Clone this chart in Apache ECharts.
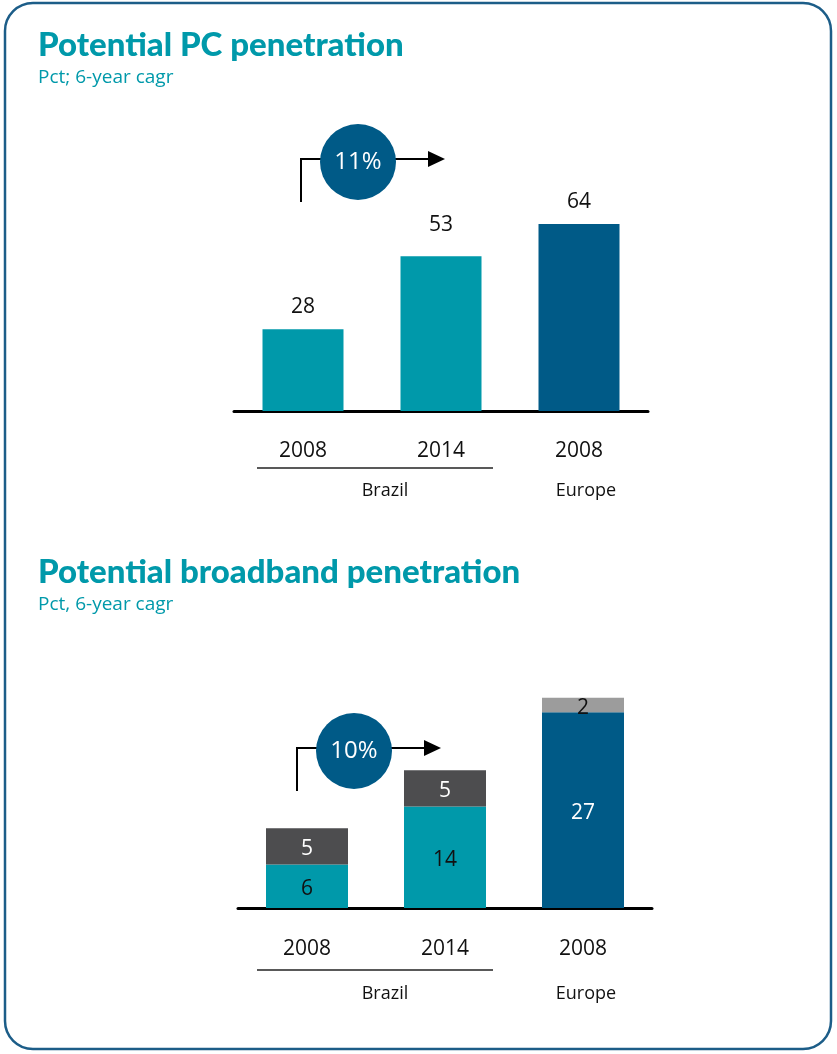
<!DOCTYPE html>
<html>
<head>
<meta charset="utf-8">
<script src="https://cdn.jsdelivr.net/npm/echarts@6/dist/echarts.min.js"></script>
<style>
  html, body { margin: 0; padding: 0; background: #ffffff; }
  #chart { width: 837px; height: 1054px; }
</style>
</head>
<body>
<div id="chart"></div>
<script>
// Category labels under each bar and the region each pair belongs to
const categories = ['2008', '2014', '2008'];
const regionLabels = ['Brazil', 'Europe'];

// Potential PC penetration, percent
const pcValues = [28, 53, 64];
const pcCagr = '11%';

// Potential broadband penetration, percent (lower + upper stacked segments)
const bbLower = [6, 14, 27];
const bbUpper = [5, 5, 2];
const bbCagr = '10%';

const TEAL = '#0099aa';
const NAVY = '#005a87';
const DARK = '#4d4d4f';
const LIGHT = '#9c9c9c';
const FONT = 'Open Sans';

const chart = echarts.init(document.getElementById('chart'));

function lowerColor(i) { return i === 2 ? NAVY : TEAL; }

const option = {
  animation: false,
  textStyle: { fontFamily: FONT },
  grid: [
    { left: 234, width: 414, top: 119, height: 292 },
    { left: 238, width: 414, top: 618, height: 290 }
  ],
  xAxis: [0, 1].map(g => ({
    type: 'category',
    gridIndex: g,
    data: categories,
    axisLine: { lineStyle: { color: '#000', width: 3 } },
    axisTick: { show: false },
    axisLabel: { color: '#111', fontSize: 21, fontFamily: FONT, margin: g === 0 ? 30 : 31 }
  })),
  yAxis: [
    { type: 'value', gridIndex: 0, min: 0, max: 100, show: false },
    { type: 'value', gridIndex: 1, min: 0, max: 40, show: false }
  ],
  series: [
    {
      type: 'bar',
      xAxisIndex: 0, yAxisIndex: 0,
      barWidth: 81,
      data: pcValues.map((v, i) => ({
        value: v,
        itemStyle: { color: lowerColor(i) },
        label: i === 1 ? { offset: [0, -9] } : {}
      })),
      label: { show: true, position: 'top', distance: 12, color: '#111', fontSize: 21, fontFamily: FONT }
    },
    {
      type: 'bar',
      xAxisIndex: 1, yAxisIndex: 1,
      stack: 'bb',
      barWidth: 82,
      data: bbLower.map((v, i) => ({
        value: v,
        itemStyle: { color: lowerColor(i) },
        label: { color: i === 2 ? '#ffffff' : '#111111' }
      })),
      label: { show: true, position: 'inside', offset: [0, 3], fontSize: 21, fontFamily: FONT }
    },
    {
      type: 'bar',
      xAxisIndex: 1, yAxisIndex: 1,
      stack: 'bb',
      barWidth: 82,
      data: bbUpper.map((v, i) => ({
        value: v,
        itemStyle: { color: i === 2 ? LIGHT : DARK },
        label: { color: i === 2 ? '#111111' : '#ffffff' }
      })),
      label: { show: true, position: 'inside', offset: [0, 3], fontSize: 21, fontFamily: FONT }
    }
  ],
  graphic: []
};

// Panel frame, headings, growth badges and region captions
function heading(y, title, sub) {
  return [
    { type: 'text', z: 10, style: { x: 38, y: y, text: title, fill: TEAL,
      font: '900 33px Lato', textVerticalAlign: 'middle' } },
    { type: 'text', z: 10, style: { x: 38, y: y + 33, text: sub, fill: TEAL,
      font: '19px "Open Sans"', textVerticalAlign: 'middle' } }
  ];
}

function badge(cx, cy, text, stemX, stemBottom, arrowEnd) {
  return [
    { type: 'polyline', z: 5, shape: { points: [[stemX, stemBottom], [stemX, cy - 3], [arrowEnd - 16, cy - 3]] },
      style: { stroke: '#000', lineWidth: 2, fill: null } },
    { type: 'polygon', z: 5, shape: { points: [[arrowEnd - 17, cy - 11], [arrowEnd, cy - 3], [arrowEnd - 17, cy + 5]] },
      style: { fill: '#000' } },
    { type: 'circle', z: 6, shape: { cx: cx, cy: cy, r: 38 }, style: { fill: NAVY } },
    { type: 'text', z: 7, style: { x: cx, y: cy, text: text, fill: '#fff',
      font: '24px "Open Sans"', textAlign: 'center', textVerticalAlign: 'middle' } }
  ];
}

function regions(lineY, textY) {
  return [
    { type: 'line', z: 5, shape: { x1: 257, y1: lineY, x2: 493, y2: lineY },
      style: { stroke: '#222', lineWidth: 1.6 } },
    { type: 'text', z: 5, style: { x: 385, y: textY, text: regionLabels[0], fill: '#111',
      font: '18px "Open Sans"', textAlign: 'center', textVerticalAlign: 'middle' } },
    { type: 'text', z: 5, style: { x: 586, y: textY, text: regionLabels[1], fill: '#111',
      font: '18px "Open Sans"', textAlign: 'center', textVerticalAlign: 'middle' } }
  ];
}

option.graphic = [
  { type: 'rect', z: 0, shape: { x: 5, y: 3, width: 826, height: 1046, r: 28 },
    style: { fill: null, stroke: '#1c5d88', lineWidth: 2.5 } },
  ...heading(45, 'Potential PC penetration', 'Pct; 6-year cagr'),
  ...heading(572, 'Potential broadband penetration', 'Pct, 6-year cagr'),
  ...badge(358, 162, pcCagr, 301, 202, 445),
  ...badge(354, 751, bbCagr, 297, 791, 441),
  ...regions(468, 491),
  ...regions(970, 994)
];

chart.setOption(option);
</script>
</body>
</html>
